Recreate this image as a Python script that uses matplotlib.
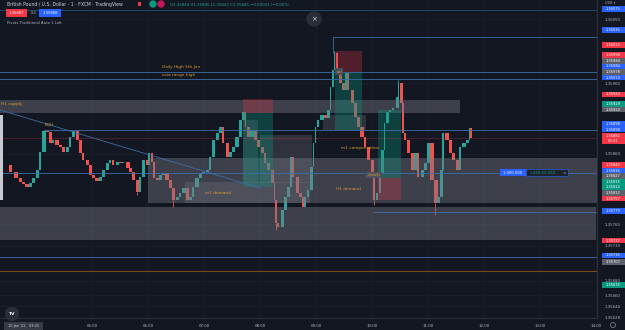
import numpy as np
import matplotlib.pyplot as plt
from matplotlib.patches import Rectangle, Ellipse

# ---- candles: time in minutes after midnight, close price ----
bar_time = [201, 212, 218, 223, 226, 230, 234, 237, 241, 244,
            248, 252, 255, 258, 262, 266, 269, 273, 276, 280,
            284, 287, 290, 295, 298, 301, 305, 309, 312, 316,
            319, 322, 327, 330, 333, 338, 341, 344, 348, 351,
            355, 359, 361, 364, 366, 370, 373, 376, 380, 384,
            387, 391, 394, 398, 402, 405, 408, 412, 416, 419,
            423, 426, 430, 434, 437, 440, 445, 448, 451, 455,
            459, 462, 464, 467, 471, 475, 478, 482, 485, 489,
            493, 495, 497, 499, 504, 507, 510, 513, 515, 520,
            523, 526, 528, 531, 535, 537, 539, 542, 546, 550,
            553, 555, 558, 559, 562, 566, 569, 572, 574, 579,
            582, 585, 589, 592, 596, 600, 602, 605, 608, 611,
            613, 616, 619, 622, 627, 628, 631, 633, 635, 639,
            643, 646, 649, 654, 657, 660, 664, 668, 671, 674,
            676, 680, 684, 687, 691, 694, 698, 702, 704, 706]
bar_close = [1.35844, 1.35834, 1.35826, 1.35820, 1.35817, 1.35813, 1.35818, 1.35826, 1.35837, 1.35862,
             1.35892, 1.35891, 1.35875, 1.35879, 1.35872, 1.35869, 1.35862, 1.35869, 1.35884, 1.35892,
             1.35879, 1.35861, 1.35851, 1.35844, 1.35830, 1.35826, 1.35821, 1.35827, 1.35837, 1.35847,
             1.35851, 1.35844, 1.35848, 1.35847, 1.35848, 1.35840, 1.35834, 1.35823, 1.35806, 1.35827,
             1.35851, 1.35844, 1.35861, 1.35848, 1.35826, 1.35823, 1.35830, 1.35833, 1.35823, 1.35811,
             1.35794, 1.35799, 1.35804, 1.35811, 1.35794, 1.35799, 1.35813, 1.35826, 1.35833, 1.35834,
             1.35837, 1.35855, 1.35879, 1.35889, 1.35898, 1.35875, 1.35855, 1.35862, 1.35869, 1.35884,
             1.35908, 1.35919, 1.35898, 1.35884, 1.35893, 1.35879, 1.35869, 1.35861, 1.35847, 1.35837,
             1.35818, 1.35794, 1.35762, 1.35756, 1.35780, 1.35799, 1.35813, 1.35855, 1.35827, 1.35804,
             1.35799, 1.35785, 1.35799, 1.35809, 1.35841, 1.35875, 1.35898, 1.35908, 1.35915, 1.35910,
             1.35922, 1.35954, 1.35978, 1.36002, 1.35978, 1.35960, 1.35950, 1.35974, 1.35950, 1.35932,
             1.35912, 1.35898, 1.35884, 1.35869, 1.35851, 1.35827, 1.35794, 1.35804, 1.35833, 1.35865,
             1.35903, 1.35919, 1.35922, 1.35925, 1.35940, 1.35960, 1.35932, 1.35889, 1.35879, 1.35861,
             1.35837, 1.35861, 1.35827, 1.35837, 1.35847, 1.35875, 1.35823, 1.35790, 1.35799, 1.35837,
             1.35889, 1.35879, 1.35861, 1.35851, 1.35837, 1.35869, 1.35875, 1.35879, 1.35896, 1.35882]
spike_time = [348, 387, 497, 559, 602, 628, 668]
spike_price = [1.35802, 1.35784, 1.35752, 1.36006, 1.35787, 1.35964, 1.35773]

hour_ticks = [300, 360, 420, 480, 540, 600, 660, 720, 780, 840]
hour_labels = ['05:00', '06:00', '07:00', '08:00', '09:00', '10:00', '11:00', '12:00', '13:00', '14:00']
price_ticks = [1.36050, 1.35960, 1.35860, 1.35760, 1.35730, 1.35680, 1.35660, 1.35644, 1.35628]

# grey zones
zone_start = [196, 360, 196, 400, 480, 547, 462]
zone_end = [694, 845, 840, 534, 536, 594, 478]
zone_low = [1.35918, 1.35790, 1.35738, 1.35790, 1.35818, 1.35893, 1.35818]
zone_high = [1.35936, 1.35854, 1.35785, 1.35820, 1.35886, 1.35915, 1.35908]

# position tools
pos_start = [462, 560, 606]
pos_end = [494, 589, 631]
pos_entry = [1.35918, 1.35976, 1.35826]
pos_stop = [1.35937, 1.36005, 1.35794]
pos_target = [1.35813, 1.35893, 1.35922]

# horizontal levels
hline_price = [1.36064, 1.36025, 1.35976, 1.35966, 1.35893, 1.35833, 1.35777, 1.35714]
hline_start = [196, 558, 196, 196, 247.5, 196, 601, 196]
orange_level = 1.35694
trend_time = [196, 481]
trend_price = [1.35924, 1.35811]

note_text = ['H1 supply', 'EQH', 'Daily High 5th Jan', 'asia range high', 'm1 demand',
             'H1 demand', 'm1 compensation']
note_time = [203, 249, 375, 375, 421, 561, 567]
note_price = [1.35930, 1.35901, 1.35983, 1.35971, 1.35804, 1.35810, 1.35868]
ssl_time, ssl_price = 565, 1.35976
choch_time, choch_price = 602, 1.35830

badge_time, badge_price = 737, 1.35833

tag_price = [1.36075, 1.36035, 1.36014, 1.35998, 1.35984, 1.35984, 1.35978, 1.35974, 1.35944,
             1.35929, 1.35924, 1.35898, 1.35898, 1.35840, 1.35836, 1.35827, 1.35815, 1.35814,
             1.35812, 1.35797, 1.35779, 1.35737, 1.35716, 1.35707, 1.35674]
tag_kind = ['blue', 'blue', 'red', 'red', 'grey', 'blue', 'grey', 'blue', 'red',
            'green', 'grey', 'blue', 'blue', 'red', 'blue', 'grey', 'green', 'green',
            'grey', 'red', 'blue', 'red', 'blue', 'grey', 'green']

BG = '#131722'
GREEN = '#26a69a'
RED = '#ef5350'
LINE = '#3a6ea8'
ORANGE = '#d79b2e'
TAGC = {'blue': '#2962ff', 'red': '#f23645', 'green': '#089981', 'grey': '#5d606b'}

W, H = 625, 330
fig = plt.figure(figsize=(W / 100, H / 100), dpi=100, facecolor=BG)
ax = fig.add_axes([0, 12 / H, 597 / W, 318 / H])
ax.set_facecolor(BG)
x0, x1 = 201.4, 841.1
y0, y1 = 1.356275, 1.360775
ax.set_xlim(x0, x1)
ax.set_ylim(y0, y1)
pt = (x1 - x0) / 597
pp = (y1 - y0) / 318

for s in ['top', 'left']:
    ax.spines[s].set_visible(False)
for s in ['right', 'bottom']:
    ax.spines[s].set_color('#2a2e39')
    ax.spines[s].set_linewidth(0.8)

ax.set_xticks(hour_ticks, hour_labels)
ax.yaxis.tick_right()
ax.set_yticks(price_ticks, [f'{p:.5f}' for p in price_ticks])
ax.set_ylim(y0, y1)
ax.tick_params(axis='x', length=0, pad=4.3, labelsize=2.8, labelcolor='#b2b5be')
ax.tick_params(axis='y', length=0, pad=5.5, labelsize=2.8, labelcolor='#b2b5be')
ax.grid(True, color='#1b1f2b', lw=0.6, zorder=0)
ax.set_axisbelow(True)

# candles
t = np.array(bar_time, float)
c = np.array(bar_close)
o = np.r_[c[0], c[:-1]]
body = c - o
body = np.where(np.abs(body) < 2e-6, 2e-6, body)
cols = np.where(c >= o, GREEN, RED)
w = np.minimum(np.r_[3.0, np.diff(t)], 4.0) * 0.9
ax.bar(t - w / 2 + 0.4, body, bottom=o, width=w, align='edge', color=cols, linewidth=0, zorder=3)
for st, sp in zip(spike_time, spike_price):
    i = bar_time.index(st)
    ax.vlines(st, bar_close[i], sp, color=cols[i], lw=0.6, zorder=3)

# zones
for i in range(len(zone_start)):
    a = 0.42 if i < 3 else 0.28
    ax.add_patch(Rectangle((zone_start[i], zone_low[i]), zone_end[i] - zone_start[i],
                           zone_high[i] - zone_low[i], facecolor='#787b86', alpha=a,
                           lw=0, zorder=4))

# position tools
for i in range(len(pos_start)):
    wd = pos_end[i] - pos_start[i]
    lo, hi = sorted([pos_entry[i], pos_stop[i]])
    ax.add_patch(Rectangle((pos_start[i], lo), wd, hi - lo, facecolor='#f23645',
                           alpha=0.28, lw=0, zorder=4))
    lo, hi = sorted([pos_entry[i], pos_target[i]])
    ax.add_patch(Rectangle((pos_start[i], lo), wd, hi - lo, facecolor='#089981',
                           alpha=0.32, lw=0, zorder=4))

# lines
for p, s in zip(hline_price, hline_start):
    ax.hlines(p, s, x1 + 5, color=LINE if p < 1.3606 else '#24506e', lw=0.6, zorder=5)
ax.vlines(hline_start[1], bar_close[bar_time.index(559)], hline_price[1], color=LINE, lw=0.6, zorder=5)
ax.axhline(orange_level, color='#7a4c1c', lw=0.8, zorder=5)
ax.axhline(bar_close[-1], color='#f23645', lw=0.6, alpha=0.28, zorder=5)
ax.plot(trend_time, trend_price, color=LINE, lw=0.6, zorder=5)

# left light strip
ax.add_patch(Rectangle((x0, 1.35794), 3 * pt, 85 * pp, facecolor='#c9cbd0', lw=0, zorder=6))

# notes
for s, tm, p in zip(note_text, note_time, note_price):
    ax.text(tm, p, s, color=ORANGE, fontsize=3.1, ha='left', va='center', zorder=7, clip_on=True)
ax.text(ssl_time, ssl_price, 'ssl', color=ORANGE, fontsize=3.1, ha='center', va='center', zorder=7,
        bbox=dict(boxstyle='square,pad=0.3', fc='#4a4e5a', ec='none'))
ax.text(choch_time, choch_price, 'choch', color=ORANGE, fontsize=3.1, ha='center', va='center', zorder=7,
        bbox=dict(boxstyle='square,pad=0.3', fc='#50535e', ec='none'))

# position quantity badge
bh = 7 * pp
ax.add_patch(Rectangle((badge_time, badge_price - bh / 2), 26 * pt, bh, facecolor='#2962ff', lw=0, zorder=8))
ax.add_patch(Rectangle((badge_time + 26 * pt, badge_price - bh / 2), 42 * pt, bh, facecolor='#1e222d',
                       edgecolor='#2962ff', lw=0.4, zorder=8))
ax.text(badge_time + 13 * pt, badge_price, '1.000 000', color='white', fontsize=2.7,
        ha='center', va='center', zorder=9)
ax.text(badge_time + 43 * pt, badge_price, '+460.00 USD', color='#089981', fontsize=2.7,
        ha='center', va='center', zorder=9)
ax.text(badge_time + 64 * pt, badge_price, '×', color='#b2b5be', fontsize=3, ha='center',
        va='center', zorder=9)


def fx(x):
    return x / W


def fy(y):
    return 1 - y / H


def box(x, y, w_, h_, color, **kw):
    fig.add_artist(Rectangle((fx(x), fy(y + h_)), w_ / W, h_ / H, transform=fig.transFigure,
                             facecolor=color, lw=0, **kw))


# price axis tags, spread apart like the platform does
tags = [(p, k, f'{p:.5f}', 5.6) for p, k in zip(tag_price, tag_kind)]
tags.append((bar_close[-1], 'red', f'{bar_close[-1]:.5f}\n00:21', 11.0))
tags.sort(key=lambda r: -r[0])
ys = [H - ax.transData.transform((x0, r[0]))[1] for r in tags]
hs = [r[3] for r in tags]
for _ in range(400):
    for i in range(len(ys) - 1):
        need = (hs[i] + hs[i + 1]) / 2
        gap = ys[i + 1] - ys[i]
        if gap < need:
            d = (need - gap) / 2
            ys[i] -= d
            ys[i + 1] += d
    ys[0] = max(ys[0], 9)
for (p, k, s, h_), y in zip(tags, ys):
    box(601.5, y - h_ / 2, 23.5, h_, TAGC[k], zorder=2)
    fig.text(fx(613), fy(y), s, color='white', fontsize=2.6, ha='center', va='center',
             linespacing=1.3, zorder=3)

# header
fig.text(fx(7), fy(4.5), 'British Pound / U.S. Dollar · 1 · FXCM · TradingView', color='#d1d4dc',
         fontsize=3.3, ha='left', va='center')
box(138, 2, 3, 4, '#f23645')
fig.add_artist(Ellipse((fx(153), fy(4)), 6 / W, 6 / H, transform=fig.transFigure, color='#089981'))
fig.add_artist(Ellipse((fx(161), fy(4)), 6 / W, 6 / H, transform=fig.transFigure, color='#c2185b'))
fig.text(fx(170), fy(4.5), 'O1.35844 H1.35845 L1.35843 C1.35845 −0.00001 (−0.00%)', color='#26a69a',
         fontsize=2.8, ha='left', va='center')
box(6, 9, 21, 8, '#f23645')
fig.text(fx(16.5), fy(13), '1.35887', color='white', fontsize=2.7, ha='center', va='center')
fig.text(fx(31), fy(13), '0.4', color='#b2b5be', fontsize=2.6, ha='left', va='center')
box(39, 9, 22, 8, '#2962ff')
fig.text(fx(50), fy(13), '1.35888', color='white', fontsize=2.7, ha='center', va='center')
fig.text(fx(7), fy(23), 'Pivots Traditional Auto 1 Left', color='#b2b5be', fontsize=2.7,
         ha='left', va='center')
fig.add_artist(Ellipse((fx(314), fy(19)), 14 / W, 14 / H, transform=fig.transFigure, color='#2a2e39'))
fig.text(fx(314), fy(19), '×', color='#d1d4dc', fontsize=5, ha='center', va='center')
fig.text(fx(610), fy(3), 'USD ▾', color='#b2b5be', fontsize=2.5, ha='center', va='center')

# footer
fig.add_artist(Ellipse((fx(12), fy(314)), 13 / W, 13 / H, transform=fig.transFigure, color='#2a2e39'))
fig.text(fx(12), fy(314), 'TV', color='white', fontsize=3.2, fontweight='bold', ha='center', va='center')
box(4, 322, 39, 8, '#363a45')
fig.text(fx(23.5), fy(326.5), "10 Jan '22   03:25", color='#d1d4dc', fontsize=2.5, ha='center', va='center')
fig.add_artist(Ellipse((fx(613), fy(325)), 5 / W, 5 / H, transform=fig.transFigure, fill=False,
                       edgecolor='#787b86', lw=0.6))

fig.savefig('out.png', dpi=100, facecolor=BG)
